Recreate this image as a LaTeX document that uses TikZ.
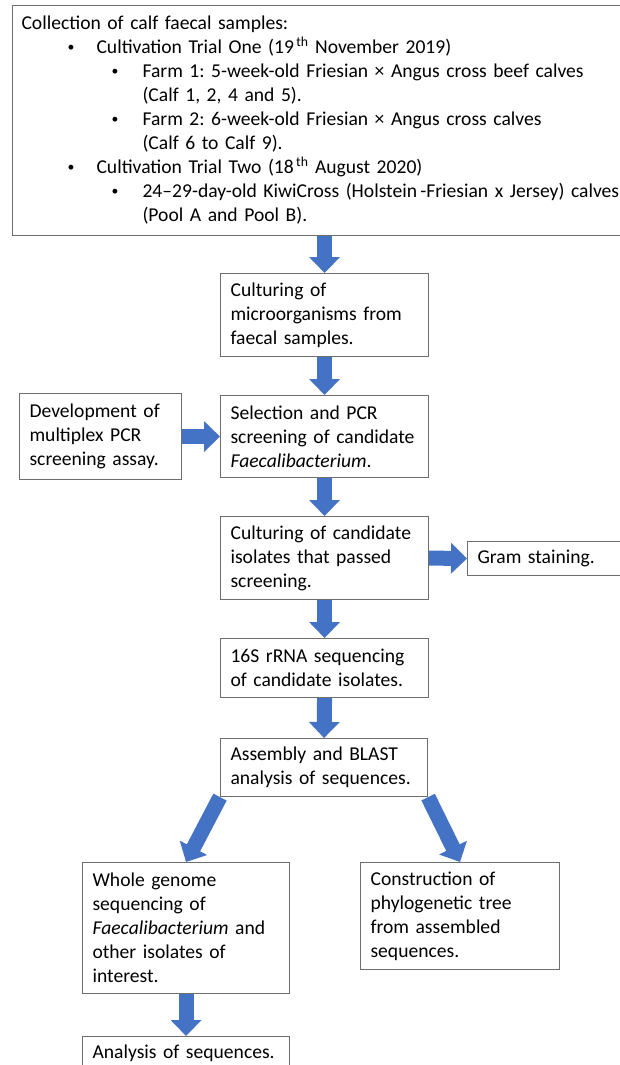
\documentclass[tikz,border=0pt]{standalone}
\usepackage{fontspec}
\setmainfont{Carlito}
\frenchspacing
\usetikzlibrary{arrows.meta,calc,backgrounds}
\definecolor{arrowblue}{HTML}{4472C4}
\definecolor{boxgray}{HTML}{6E6E6E}
\newcommand\smbul{\raisebox{0.12em}{\scalebox{0.7}{\textbullet}}}
\tikzset{
  flowbox/.style={draw=boxgray, line width=1.1pt, fill=white, align=left,
    anchor=north west, inner xsep=10pt, inner ysep=0pt,
    font=\fontsize{19.6}{24}\selectfont\frenchspacing},
  bigarrow/.style={draw=arrowblue, line width=15pt,
    -{Triangle[width=30pt,length=16pt]}},
}
\begin{document}
\begin{tikzpicture}[x=1pt,y=-1pt]
\useasboundingbox (0,0) rectangle (620,1065);
\clip (0,0) rectangle (620,1065);

\node[flowbox, inner xsep=9pt, minimum width=628pt, minimum height=230pt, text width=610pt] (top) at (12,5) {Collection of calf faecal samples:\\
\hspace*{46pt}\makebox[29pt][l]{\smbul}Cultivation Trial One (19\textsuperscript{\,th} November 2019)\\
\hspace*{90pt}\makebox[31pt][l]{\smbul}Farm 1: 5-week-old Friesian × Angus cross beef calves\\
\hspace*{121pt}(Calf 1, 2, 4 and 5).\\
\hspace*{90pt}\makebox[31pt][l]{\smbul}Farm 2: 6-week-old Friesian × Angus cross calves\\
\hspace*{121pt}(Calf 6 to Calf 9).\\
\hspace*{46pt}\makebox[29pt][l]{\smbul}Cultivation Trial Two (18\textsuperscript{\,th} August 2020)\\
\hspace*{90pt}\makebox[31pt][l]{\smbul}24–29-day-old KiwiCross (Holstein\,-Friesian x Jersey) calves\\
\hspace*{121pt}(Pool A and Pool B).};

\node[flowbox, minimum width=208pt, minimum height=83pt, text width=188pt] (cult) at (220,273) {Culturing of\\ microorganisms from\\ faecal samples.};
\node[flowbox, minimum width=162pt, minimum height=86pt, text width=142pt] (dev) at (19,393) {Development of\\ multiplex PCR\\ screening assay.};
\node[flowbox, minimum width=208pt, minimum height=82pt, text width=188pt] (sel) at (220,395) {Selection and PCR\\ screening of candidate\\ \textit{Faecalibacterium}.};
\node[flowbox, minimum width=208pt, minimum height=83pt, text width=188pt] (cand) at (220,516) {Culturing of candidate\\ isolates that passed\\ screening.};
\node[flowbox, minimum width=173pt, minimum height=34pt, text width=153pt] (gram) at (467,541) {Gram staining.};
\node[flowbox, minimum width=208pt, minimum height=59pt, text width=188pt] (seq) at (220,638) {16S rRNA sequencing\\ of candidate isolates.};
\node[flowbox, minimum width=207pt, minimum height=58pt, text width=187pt] (asm) at (220,738) {Assembly and BLAST\\ analysis of sequences.};
\node[flowbox, minimum width=207pt, minimum height=131pt, text width=187pt] (wgs) at (82,862) {Whole genome\\ sequencing of\\ \textit{Faecalibacterium} and\\ other isolates of\\ interest.};
\node[flowbox, minimum width=199pt, minimum height=107pt, text width=179pt] (tree) at (360,862) {Construction of\\ phylogenetic tree\\ from assembled\\ sequences.};
\node[flowbox, minimum width=207pt, minimum height=34pt, text width=187pt] (ana) at (82,1036) {Analysis of sequences.};

\begin{scope}[on background layer]
\fill[white] (0,0) rectangle (620,1065);
\draw[bigarrow] (cult.north |- top.south) -- (cult.north);
\draw[bigarrow] (cult.south) -- (sel.north);
\draw[bigarrow] (dev.east) -- (sel.west);
\draw[bigarrow] (sel.south) -- (cand.north);
\draw[bigarrow] (cand.east) -- (gram.west);
\draw[bigarrow] (cand.south) -- (seq.north);
\draw[bigarrow] (seq.south) -- (asm.north);
\draw[bigarrow] (asm.south west) -- (wgs.north);
\draw[bigarrow] (asm.south east) -- (tree.north);
\draw[bigarrow] (wgs.south) -- (ana.north);
\end{scope}
\end{tikzpicture}
\end{document}
